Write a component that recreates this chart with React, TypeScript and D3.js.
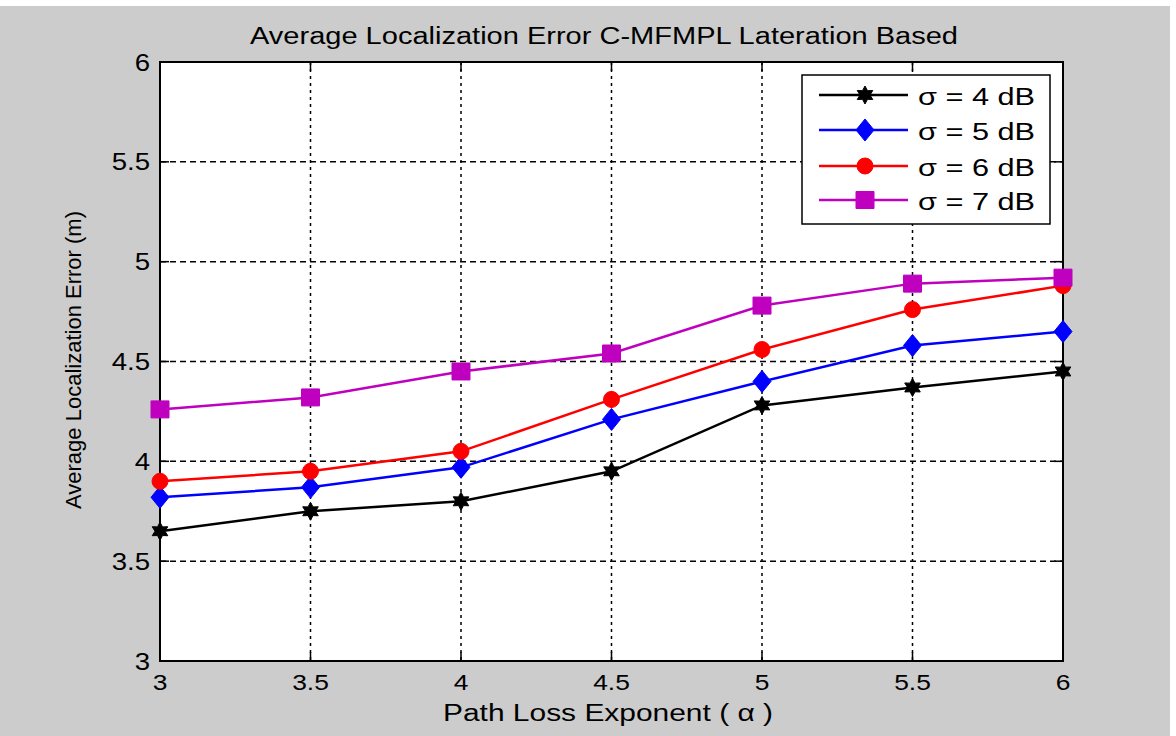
import React from "react";
import * as d3 from "d3";

const xValues = [3, 3.5, 4, 4.5, 5, 5.5, 6];
const sigma4 = [3.65, 3.75, 3.8, 3.95, 4.28, 4.37, 4.45];
const sigma5 = [3.82, 3.87, 3.97, 4.21, 4.4, 4.58, 4.65];
const sigma6 = [3.9, 3.95, 4.05, 4.31, 4.56, 4.76, 4.88];
const sigma7 = [4.26, 4.32, 4.45, 4.54, 4.78, 4.89, 4.92];
const xTicks = [3, 3.5, 4, 4.5, 5, 5.5, 6];
const yTicks = [3, 3.5, 4, 4.5, 5, 5.5, 6];
const seriesNames = ["σ = 4 dB", "σ = 5 dB", "σ = 6 dB", "σ = 7 dB"];
const seriesColors = ["#000000", "#0000ff", "#ff0000", "#bf00bf"];
const seriesMarkers = ["hexagram", "diamond", "circle", "square"];

const W = 1176, H = 736;
const left = 160, right = 1063, top = 62, bottom = 661;
const font = "'Liberation Sans', Arial, sans-serif";
const SX = 1.2;

function markerPath(kind: string): string {
  if (kind === "diamond") return "M0,-11L9,0L0,11L-9,0Z";
  if (kind === "square") return "M-9,-8.5H9V8.5H-9Z";
  if (kind === "circle") return d3.arc()({ innerRadius: 0, outerRadius: 8, startAngle: 0, endAngle: 2 * Math.PI }) as string;
  const pts: string[] = [];
  const R = 9, r = 5;
  for (let i = 0; i < 12; i++) {
    const a = -Math.PI / 2 + (i * Math.PI) / 6;
    const rad = i % 2 === 0 ? R : r;
    pts.push(`${(rad * Math.cos(a + Math.PI)).toFixed(2)},${(rad * Math.sin(a + Math.PI)).toFixed(2)}`);
  }
  return "M" + pts.join("L") + "Z";
}

function HText(props: { x: number; y: number; anchor?: string; size: number; children: React.ReactNode; len?: number }) {
  const { x, y, anchor = "start", size, children, len } = props;
  if (len) {
    const x0 = anchor === "middle" ? x - len / 2 : anchor === "end" ? x - len : x;
    return (
      <text x={x0} y={y} textLength={len} lengthAdjust="spacingAndGlyphs" fontFamily={font} fontSize={size} fill="#000">{children}</text>
    );
  }
  return (
    <text transform={`translate(${x},${y}) scale(${SX},1)`} textAnchor={anchor} fontFamily={font} fontSize={size} fill="#000">{children}</text>
  );
}

export default function App() {
  const x = d3.scaleLinear().domain([3, 6]).range([left, right]);
  const y = d3.scaleLinear().domain([3, 6]).range([bottom, top]);
  const line = d3.line<number>().x((_, i) => x(xValues[i])).y((d) => y(d));
  const series = [sigma4, sigma5, sigma6, sigma7];
  const legendRows = [95, 130, 166, 200];

  return (
    <div style={{ position: "absolute", left: 0, top: 0 }}>
      <svg width={W} height={H} style={{ display: "block" }}>
        <rect x={0} y={0} width={W} height={H} fill="#ffffff" />
        <rect x={0} y={6} width={1170} height={H - 6} fill="#cccccc" />
        <rect x={left} y={top} width={right - left} height={bottom - top} fill="#ffffff" />
        {xTicks.slice(1, -1).map((t) => (
          <line key={"gx" + t} x1={x(t)} x2={x(t)} y1={top} y2={bottom} stroke="#000" strokeWidth={1.5} strokeDasharray="3,4" />
        ))}
        {yTicks.slice(1, -1).map((t) => (
          <line key={"gy" + t} x1={left} x2={right} y1={y(t)} y2={y(t)} stroke="#000" strokeWidth={1.5} strokeDasharray="6,4" />
        ))}
        {xTicks.map((t) => (
          <g key={"tx" + t}>
            <line x1={x(t)} x2={x(t)} y1={bottom} y2={bottom - 9} stroke="#000" strokeWidth={1.5} />
            <line x1={x(t)} x2={x(t)} y1={top} y2={top + 9} stroke="#000" strokeWidth={1.5} />
            <HText x={x(t)} y={690} anchor="middle" size={22}>{t}</HText>
          </g>
        ))}
        {yTicks.map((t) => (
          <g key={"ty" + t}>
            <line x1={left} x2={left + 9} y1={y(t)} y2={y(t)} stroke="#000" strokeWidth={1.5} />
            <line x1={right} x2={right - 9} y1={y(t)} y2={y(t)} stroke="#000" strokeWidth={1.5} />
            <HText x={150} y={y(t) + 8.5} anchor="end" size={23}>{t}</HText>
          </g>
        ))}
        <rect x={left} y={top} width={right - left} height={bottom - top} fill="none" stroke="#000" strokeWidth={2} />
        {series.map((s, si) => (
          <g key={"s" + si}>
            <path d={line(s) as string} fill="none" stroke={seriesColors[si]} strokeWidth={2.5} />
            {s.map((v, i) => (
              <path key={i} d={markerPath(seriesMarkers[si])} transform={`translate(${x(xValues[i])},${y(v)})`} fill={seriesColors[si]} stroke={seriesColors[si]} strokeWidth={1} />
            ))}
          </g>
        ))}
        <rect x={802} y={75} width={248} height={149} fill="#ffffff" stroke="#000" strokeWidth={1.5} />
        {seriesNames.map((n, i) => (
          <g key={"l" + i}>
            <line x1={819} x2={908} y1={legendRows[i]} y2={legendRows[i]} stroke={seriesColors[i]} strokeWidth={2.5} />
            <path d={markerPath(seriesMarkers[i])} transform={`translate(865,${legendRows[i]})`} fill={seriesColors[i]} stroke={seriesColors[i]} />
            <HText x={918} y={legendRows[i] + 10} size={23} len={117}>{n}</HText>
          </g>
        ))}
        <HText x={604} y={44} anchor="middle" size={23} len={708}>Average Localization Error C-MFMPL Lateration Based</HText>
        <HText x={608} y={721} anchor="middle" size={23} len={330}>Path Loss Exponent ( α )</HText>
        <text transform="translate(81,360) rotate(-90)" textAnchor="middle" fontFamily={font} fontSize={22} fill="#000">Average Localization Error (m)</text>
      </svg>
    </div>
  );
}
